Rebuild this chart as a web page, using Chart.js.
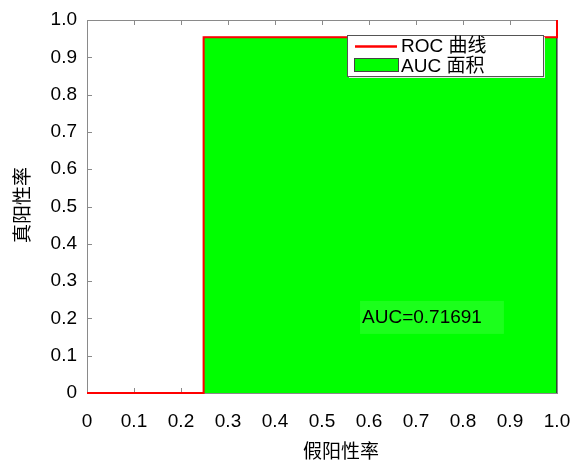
<!DOCTYPE html>
<html><head><meta charset="utf-8">
<script src="https://cdn.jsdelivr.net/npm/chart.js@4/dist/chart.umd.min.js"></script>
<style>html,body{margin:0;padding:0;background:#fff}#wrap{width:571px;height:461px}</style>
</head><body><div id="wrap"><canvas id="c" width="571" height="461"></canvas></div>
<script>
// ROC curve points (false positive rate, true positive rate)
const fpr = [0, 0.2481, 0.2481, 1, 1];
const tpr = [0, 0, 0.9535, 0.9535, 1];
// AUC area boundary
const areaX = [0.2481, 0.2481, 1, 1];
const areaY = [0, 0.9535, 0.9535, 0];
const seriesLabels = ['ROC 曲线', 'AUC 面积'];
const aucText = 'AUC=0.71691';
const xTitle = '假阳性率';
const yTitle = '真阳性率';
const tickValues = [0, 0.1, 0.2, 0.3, 0.4, 0.5, 0.6, 0.7, 0.8, 0.9, 1.0];

const LAT = '"Liberation Sans", Arial, "Noto Sans CJK SC", sans-serif';
const CJK = '"Noto Sans CJK SC", "Liberation Sans", sans-serif';
const FRAME = '#8a8a8a';

const fmt = v => (Math.abs(v) < 1e-9 ? '0' : v.toFixed(1));

const framePlugin = {
  id: 'frame',
  beforeDatasetsDraw(chart) {
    const {ctx, chartArea: a, scales: {x, y}} = chart;
    ctx.save();
    ctx.strokeStyle = FRAME;
    ctx.lineWidth = 1;
    ctx.strokeRect(Math.round(a.left) + 0.5, Math.round(a.top) + 0.5, Math.round(a.right - a.left), Math.round(a.bottom - a.top));
    ctx.beginPath();
    tickValues.forEach(v => {
      const px = Math.round(x.getPixelForValue(v)) + 0.5;
      ctx.moveTo(px, a.bottom); ctx.lineTo(px, a.bottom - 5);
      ctx.moveTo(px, a.top); ctx.lineTo(px, a.top + 5);
      const py = Math.round(y.getPixelForValue(v)) + 0.5;
      ctx.moveTo(a.left, py); ctx.lineTo(a.left + 5, py);
      ctx.moveTo(a.right, py); ctx.lineTo(a.right - 5, py);
    });
    ctx.stroke();
    ctx.restore();
  },
  afterDatasetsDraw(chart) {
    const {ctx, scales: {x, y}} = chart;
    ctx.save();
    // AUC text box
    const bx = x.getPixelForValue(0.583), by = y.getPixelForValue(0.204);
    ctx.font = '19px ' + LAT;
    const tw = ctx.measureText(aucText).width;
    ctx.fillStyle = '#1cff1c';
    ctx.fillRect(bx - 1, by - 16, tw + 24, 33);
    ctx.fillStyle = '#000';
    ctx.textBaseline = 'middle';
    ctx.textAlign = 'left';
    ctx.fillText(aucText, bx + 1, by + 1);
    // legend
    const lx = 347, ly = 35, lw = 196, lh = 41;
    ctx.fillStyle = '#e6e6e6';
    ctx.fillRect(lx + 2, ly + 2, lw, lh);
    ctx.fillStyle = '#fff';
    ctx.fillRect(lx, ly, lw, lh);
    ctx.strokeStyle = '#555';
    ctx.lineWidth = 1;
    ctx.strokeRect(lx + 0.5, ly + 0.5, lw, lh);
    ctx.strokeStyle = '#ff0000';
    ctx.lineWidth = 2.5;
    ctx.beginPath(); ctx.moveTo(355, 46.5); ctx.lineTo(397, 46.5); ctx.stroke();
    ctx.fillStyle = '#00ff00';
    ctx.fillRect(354.5, 58.5, 44, 13);
    ctx.strokeStyle = '#444';
    ctx.lineWidth = 1;
    ctx.strokeRect(354.5, 58.5, 44, 13);
    ctx.fillStyle = '#000';
    ctx.font = '19px ' + LAT;
    ctx.fillText(seriesLabels[0], 401, 47);
    ctx.fillText(seriesLabels[1], 401, 67);
    // axis titles
    ctx.font = '19px ' + CJK;
    ctx.textAlign = 'center';
    ctx.fillText(xTitle, 341, 451);
    ctx.translate(22, 205);
    ctx.rotate(-Math.PI / 2);
    ctx.fillText(yTitle, 0, 0);
    ctx.restore();
  }
};

new Chart(document.getElementById('c'), {
  type: 'scatter',
  data: {
    datasets: [
      {
        label: seriesLabels[1],
        data: areaX.map((v, i) => ({x: v, y: areaY[i]})),
        showLine: true,
        borderColor: '#333',
        borderWidth: 1,
        backgroundColor: '#00ff00',
        fill: 'origin',
        pointRadius: 0,
        tension: 0,
        order: 2
      },
      {
        label: seriesLabels[0],
        data: fpr.map((v, i) => ({x: v, y: tpr[i]})),
        showLine: true,
        borderColor: '#ff0000',
        borderWidth: 2,
        fill: false,
        pointRadius: 0,
        tension: 0,
        clip: false,
        order: 1
      }
    ]
  },
  options: {
    responsive: false,
    animation: false,
    layout: {padding: {left: 0, right: 14, top: 20, bottom: 0}},
    plugins: {legend: {display: false}, tooltip: {enabled: false}},
    scales: {
      x: {
        type: 'linear', min: 0, max: 1,
        afterFit: s => { s.height = 68; s.paddingLeft = 0; s.paddingRight = 0; },
        afterBuildTicks: s => { s.ticks = tickValues.map(v => ({value: v})); },
        grid: {display: false, drawTicks: false},
        border: {display: false},
        ticks: {font: {size: 19, family: LAT}, color: '#000', padding: 17, autoSkip: false, maxRotation: 0, callback: fmt}
      },
      y: {
        type: 'linear', min: 0, max: 1,
        afterFit: s => { s.width = 87; s.paddingTop = 0; s.paddingBottom = 0; },
        afterBuildTicks: s => { s.ticks = tickValues.map(v => ({value: v})); },
        grid: {display: false, drawTicks: false},
        border: {display: false},
        ticks: {font: {size: 19, family: LAT}, color: '#000', padding: 10, autoSkip: false, callback: fmt}
      }
    }
  },
  plugins: [framePlugin]
});
</script></body></html>
